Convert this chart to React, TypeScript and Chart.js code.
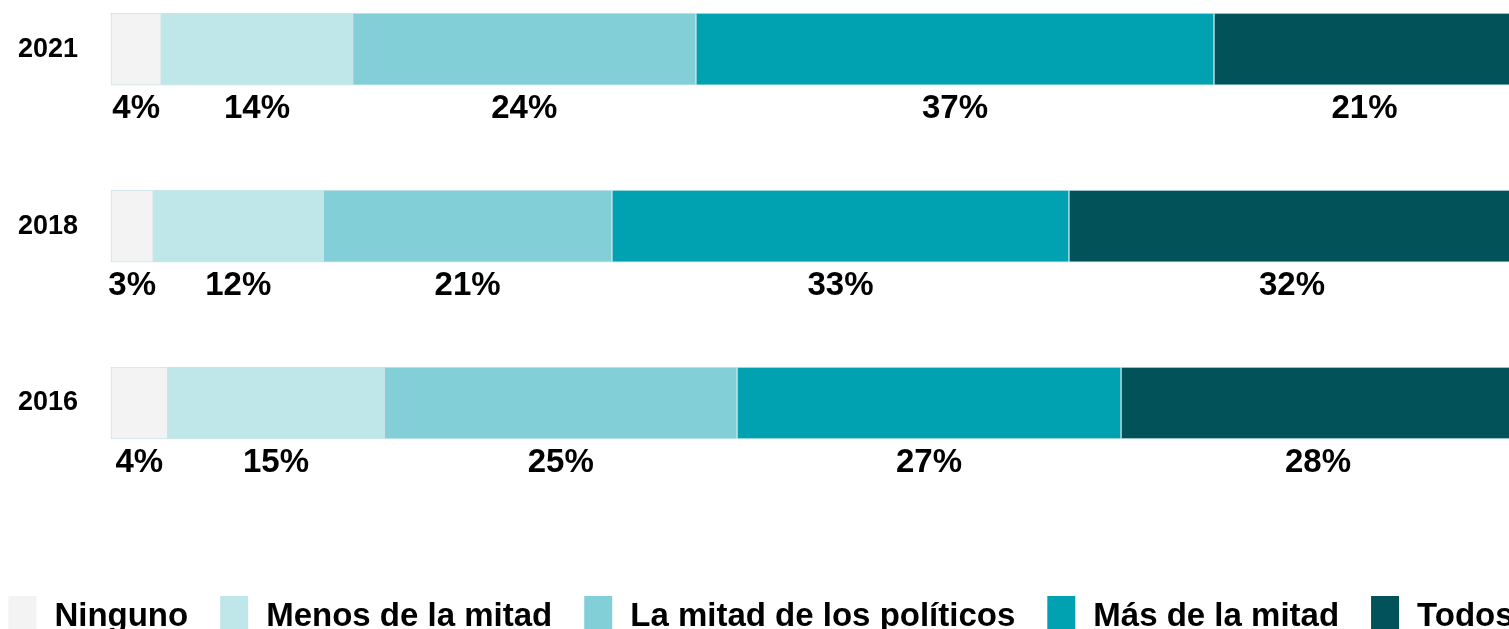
import React, { useEffect, useRef } from "react";
import { Chart, registerables } from "chart.js";

Chart.register(...registerables);

const categories = ["2021", "2018", "2016"];
const seriesNames = ["Ninguno", "Menos de la mitad", "La mitad de los políticos", "Más de la mitad", "Todos"];
const seriesColors = ["#f3f3f3", "#bfe7e9", "#82cfd7", "#00a2b2", "#02525a"];
const ninguno = [3.58, 3.01, 4.04];
const menos = [13.63, 12.11, 15.43];
const laMitad = [24.45, 20.56, 25.12];
const masDeLaMitad = [36.9, 32.55, 27.35];
const todos = [21.44, 31.77, 28.06];
const seriesValues = [ninguno, menos, laMitad, masDeLaMitad, todos];

const FONT = "'Liberation Sans', Arial, sans-serif";

const dataLabelPlugin = {
  id: "dataLabelsBelow",
  afterDatasetsDraw(chart: any) {
    const ctx = chart.ctx;
    ctx.save();
    ctx.font = `bold 33px ${FONT}`;
    ctx.fillStyle = "#000";
    ctx.textAlign = "center";
    ctx.textBaseline = "middle";
    chart.data.datasets.forEach((ds: any, di: number) => {
      const meta = chart.getDatasetMeta(di);
      meta.data.forEach((el: any, i: number) => {
        const p = el.getProps(["x", "y", "base", "height"], true);
        const cx = (p.x + p.base) / 2;
        const cy = p.y + p.height / 2 + 24;
        ctx.fillText(Math.round(ds.data[i]) + "%", cx, cy);
      });
    });
    ctx.restore();
  },
};

const legendPlugin = {
  id: "bottomLegend",
  afterDraw(chart: any) {
    const ctx = chart.ctx;
    ctx.save();
    ctx.font = `bold 33px ${FONT}`;
    ctx.textAlign = "left";
    ctx.textBaseline = "alphabetic";
    let x = 8.4;
    const boxTop = 596;
    const boxW = 28;
    const boxH = 40;
    const textGap = 18;
    const itemGap = 32;
    chart.data.datasets.forEach((ds: any) => {
      ctx.fillStyle = ds.backgroundColor;
      ctx.fillRect(x, boxTop, boxW, boxH);
      x += boxW + textGap;
      ctx.fillStyle = "#000";
      ctx.fillText(ds.label, x, 626);
      x += ctx.measureText(ds.label).width + itemGap;
    });
    ctx.restore();
  },
};

export default function App() {
  const ref = useRef<HTMLCanvasElement>(null);

  useEffect(() => {
    if (!ref.current) return;
    const chart = new Chart(ref.current, {
      type: "bar",
      data: {
        labels: categories,
        datasets: seriesNames.map((name, i) => ({
          label: name,
          data: seriesValues[i],
          backgroundColor: seriesColors[i],
          borderColor: "rgba(185,222,227,0.75)",
          borderWidth: 1,
          borderSkipped: false,
          barThickness: 72,
          clip: false,
        })),
      },
      options: {
        indexAxis: "y",
        responsive: false,
        animation: false,
        layout: { padding: { top: 49, right: 185, bottom: 226, left: 0 } },
        plugins: {
          legend: { display: false },
          tooltip: { enabled: false },
        },
        scales: {
          x: {
            stacked: true,
            min: 0,
            max: 100,
            display: false,
          },
          y: {
            stacked: true,
            offset: false,
            grid: { display: false, drawTicks: false },
            border: { display: false },
            ticks: {
              padding: 33,
              color: "#000",
              font: { family: FONT, size: 27, weight: "bold" },
            },
            afterFit: (s: any) => {
              s.width = 111;
            },
          },
        },
      },
      plugins: [dataLabelPlugin, legendPlugin],
    });
    return () => chart.destroy();
  }, []);

  return (
    <div
      style={{
        position: "fixed",
        left: 0,
        top: 0,
        width: 1509,
        height: 629,
        overflow: "hidden",
        background: "#fff",
      }}
    >
      <canvas ref={ref} width={1700} height={629} style={{ display: "block" }} />
    </div>
  );
}
